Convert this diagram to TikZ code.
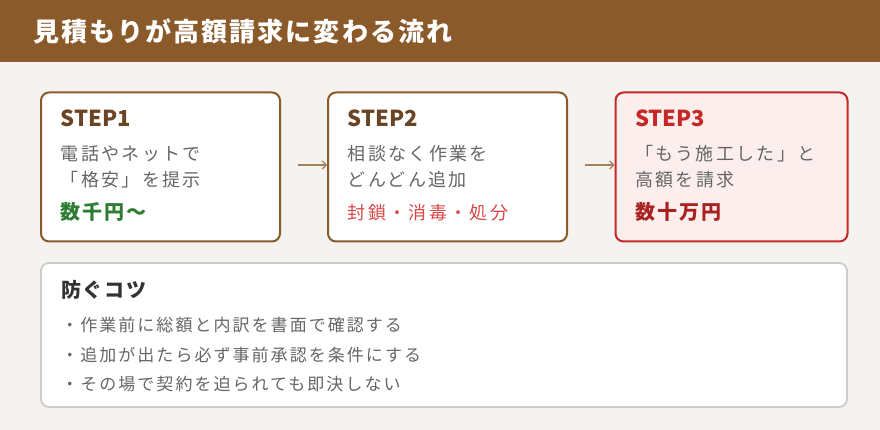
\documentclass[tikz,border=0pt]{standalone}
\usepackage{fontspec}
\setmainfont{Noto Sans CJK JP}
\usepackage{xcolor}
\usepackage{tikz}
\usetikzlibrary{arrows.meta,positioning}
\definecolor{headbrown}{HTML}{8B5A2B}
\definecolor{stepbrown}{HTML}{6B4423}
\definecolor{bgcream}{HTML}{F5F3EF}
\definecolor{bodygray}{HTML}{666666}
\definecolor{cheapgreen}{HTML}{2E7D32}
\definecolor{warnred}{HTML}{D94848}
\definecolor{alertred}{HTML}{C62828}
\definecolor{alertpink}{HTML}{FDEEEE}
\definecolor{tipgray}{HTML}{CCCCCC}
\definecolor{tipdark}{HTML}{333333}
\definecolor{arrowtan}{HTML}{A87F58}

\begin{document}
\begin{tikzpicture}[x=1pt,y=-1pt,
  stepbox/.style={draw=headbrown, line width=2pt, fill=white, rounded corners=8pt,
    minimum width=239pt, minimum height=149pt, inner sep=0pt},
  steptitle/.style={anchor=base west, inner sep=0pt, text=stepbrown,
    font=\fontsize{22}{26}\selectfont\bfseries},
  bodytext/.style={anchor=base west, inner sep=0pt, text=bodygray,
    font=\fontsize{18}{22}\selectfont\addfontfeature{LetterSpace=13}},
  pricetext/.style={anchor=base west, inner sep=0pt,
    font=\fontsize{20}{24}\selectfont\bfseries\addfontfeature{LetterSpace=10}},
  tiptext/.style={anchor=base west, inner sep=0pt, text=bodygray,
    font=\fontsize{17}{20}\selectfont\addfontfeature{LetterSpace=12}},
  flowarrow/.style={arrowtan, line width=1.2pt, -{Straight Barb[length=4pt,width=8pt]}}]
\useasboundingbox (0,0) rectangle (880,430);
\fill[bgcream] (0,0) rectangle (880,430);
\fill[headbrown] (0,0) rectangle (880,62);
\node[anchor=base west, inner sep=0pt, text=white,
  font=\fontsize{26}{30}\selectfont\bfseries\addfontfeature{LetterSpace=8}] (title) at (33,42) {見積もりが高額請求に変わる流れ};

% three steps
\node[stepbox] (s1) at (160.5,167) {};
\node[stepbox] (s2) at (447.5,167) {};
\node[stepbox, draw=alertred, fill=alertpink, minimum width=232pt] (s3) at (731.5,167) {};
\draw[flowarrow] ([shift={(17,-2)}]s1.east) -- ([yshift=2pt]s2.west);
\draw[flowarrow] ([shift={(17,-2)}]s2.east) -- ([yshift=2pt]s3.west);

\node[steptitle] (s1head) at ([shift={(20.5,35)}]s1.north west) {STEP1};
\node[bodytext] (s1a) at ([shift={(20.5,69)}]s1.north west) {電話やネットで};
\node[bodytext] (s1b) at ([shift={(20.5,95)}]s1.north west) {「格安」を提示};
\node[pricetext, text=cheapgreen] (s1cost) at ([shift={(20.5,128)}]s1.north west) {数千円〜};

\node[steptitle] (s2head) at ([shift={(20.5,35)}]s2.north west) {STEP2};
\node[bodytext] (s2a) at ([shift={(20.5,69)}]s2.north west) {相談なく作業を};
\node[bodytext] (s2b) at ([shift={(20.5,95)}]s2.north west) {どんどん追加};
\node[bodytext, text=warnred] (s2cost) at ([shift={(20.5,128)}]s2.north west) {封鎖・消毒・処分};

\node[steptitle, text=alertred] (s3head) at ([shift={(20.5,35)}]s3.north west) {STEP3};
\node[bodytext] (s3a) at ([shift={(20.5,69)}]s3.north west) {「もう施工した」と};
\node[bodytext] (s3b) at ([shift={(20.5,95)}]s3.north west) {高額を請求};
\node[pricetext, text=alertred!85!black] (s3cost) at ([shift={(20.5,128)}]s3.north west) {数十万円};

% tips
\node[draw=tipgray, line width=1.8pt, fill=white, rounded corners=8pt,
  minimum width=806pt, minimum height=144pt, inner sep=0pt] (tips) at (444,335) {};
\node[pricetext, text=tipdark, font=\fontsize{20}{24}\selectfont\bfseries\addfontfeature{LetterSpace=8}] (tiphead) at ([shift={(21,35)}]tips.north west) {防ぐコツ};
\node[tiptext] (tip1) at ([shift={(21,69)}]tips.north west) {・作業前に総額と内訳を書面で確認する};
\node[tiptext] (tip2) at ([shift={(21,99)}]tips.north west) {・追加が出たら必ず事前承認を条件にする};
\node[tiptext] (tip3) at ([shift={(21,128)}]tips.north west) {・その場で契約を迫られても即決しない};
\end{tikzpicture}
\end{document}
